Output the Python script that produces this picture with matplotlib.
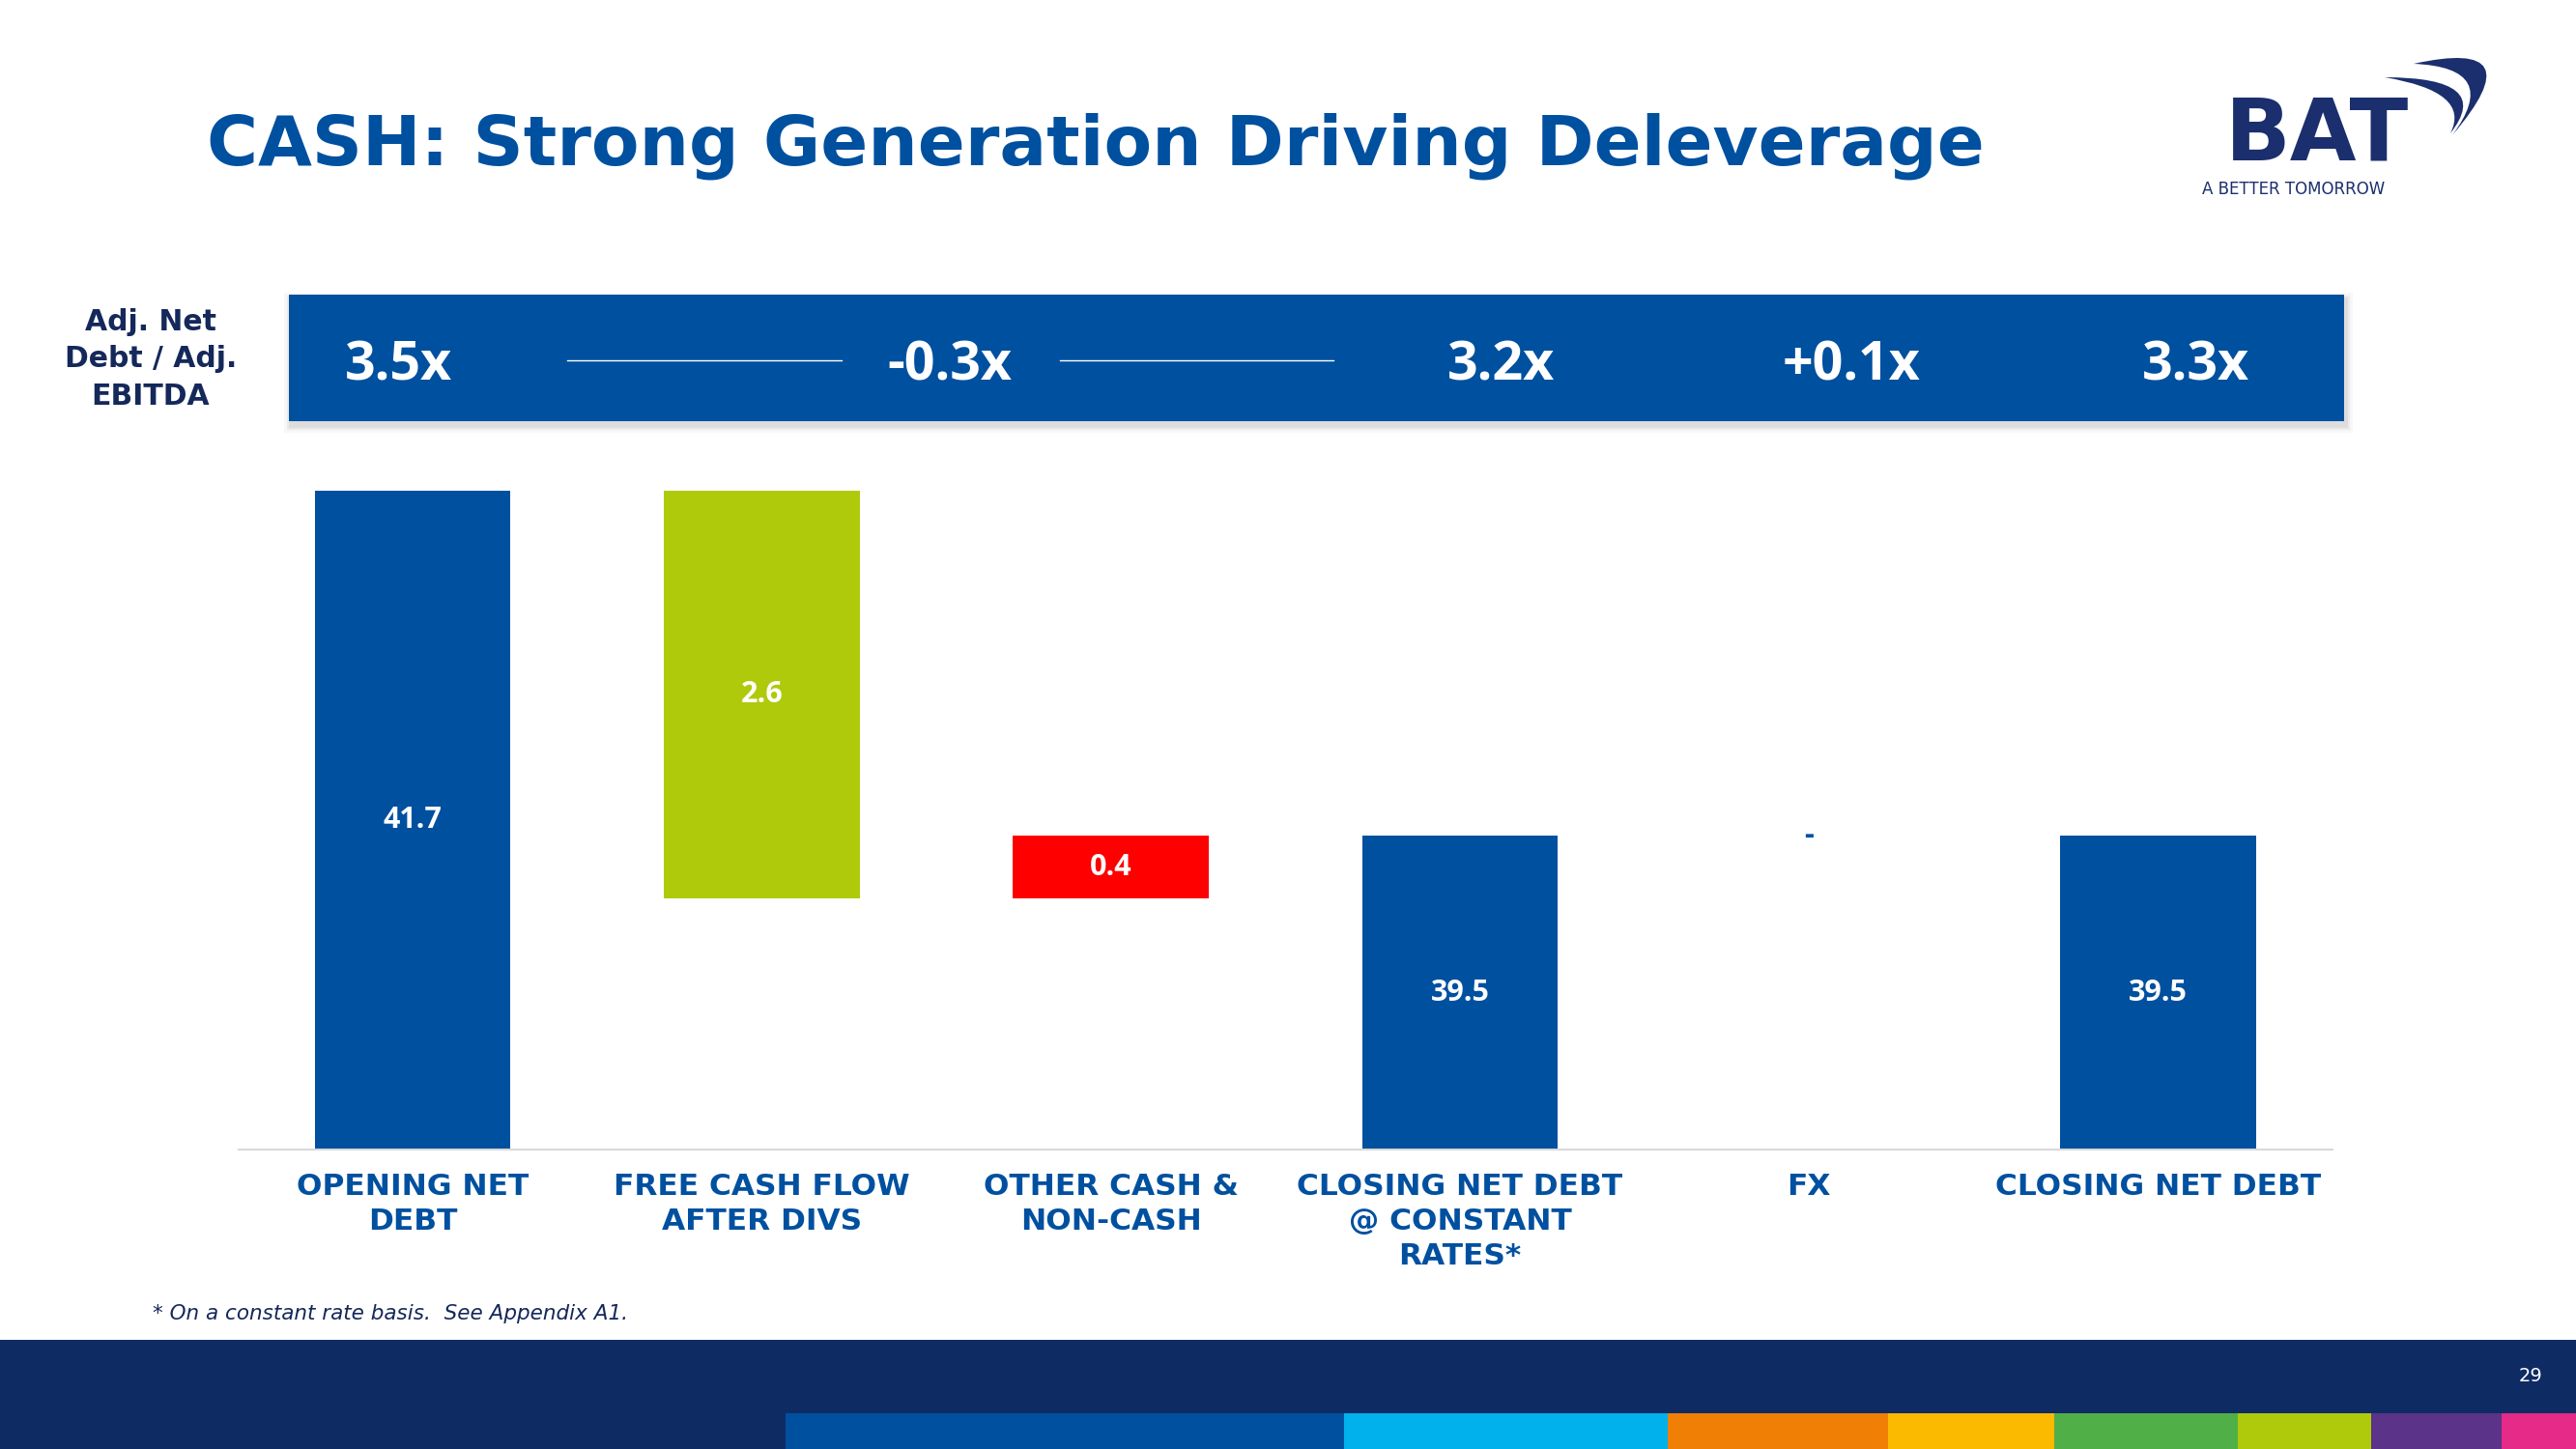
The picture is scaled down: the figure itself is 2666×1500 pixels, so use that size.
import matplotlib
matplotlib.use("Agg")
import matplotlib.pyplot as plt
from matplotlib.patches import Rectangle, PathPatch
from matplotlib.path import Path

# data
categories = ["OPENING NET\nDEBT", "FREE CASH FLOW\nAFTER DIVS", "OTHER CASH &\nNON-CASH",
              "CLOSING NET DEBT\n@ CONSTANT\nRATES*", "FX", "CLOSING NET DEBT"]
values = [41.7, -2.6, 0.4, 39.5, 0.0, 39.5]
kinds = ["total", "delta", "delta", "total", "delta", "total"]
value_labels = ["41.7", "2.6", "0.4", "39.5", "-", "39.5"]
ratio_labels = ["3.5x", "-0.3x", "3.2x", "+0.1x", "3.3x"]
strip_colors = ["#0050A0", "#00B1EB", "#F07F05", "#FBBA00", "#50AF47", "#AFCA0B", "#5B3388", "#E52A87"]

BLUE = "#0050A0"
LIME = "#AFCA0B"
RED = "#FF0000"
NAVY = "#0F2B63"
DARK = "#14285A"
LOGO = "#1B2F6E"
bar_colors = [BLUE, LIME, RED, BLUE, BLUE, BLUE]
ymin, ymax = 37.5, 42.0

W, H = 2666, 1500
fig = plt.figure(figsize=(W / 100, H / 100), dpi=100)

# background layer in pixel coords
bg = fig.add_axes([0, 0, 1, 1], zorder=0)
bg.set_xlim(0, W)
bg.set_ylim(H, 0)
bg.axis("off")

bg.text(214, 170, "CASH: Strong Generation Driving Deleverage", fontsize=52,
        fontweight="bold", color=BLUE, family="DejaVu Sans", va="baseline", ha="left")

# logo
bg.text(2398, 165, "BAT", fontsize=64, fontweight="bold", color=LOGO,
        family="DejaVu Sans", ha="center", va="baseline")
bg.text(2279, 196, "A BETTER TOMORROW", fontsize=12, color=LOGO,
        family="DejaVu Sans", ha="left", va="center")
sw1 = Path([(2498, 66), (2625, 38), (2538, 140), (2590, 70), (2498, 66)],
           [Path.MOVETO, Path.CURVE3, Path.CURVE3, Path.CURVE3, Path.CURVE3])
sw2 = Path([(2468, 80), (2582, 80), (2536, 138), (2558, 95), (2468, 80)],
           [Path.MOVETO, Path.CURVE3, Path.CURVE3, Path.CURVE3, Path.CURVE3])
bg.add_patch(PathPatch(sw1, color=LOGO, lw=0))
bg.add_patch(PathPatch(sw2, color=LOGO, lw=0))

# ratio banner
for k, a in [(7, 0.08), (4, 0.12), (2, 0.16)]:
    bg.add_patch(Rectangle((299 - k + 2, 305 - k + 5), 2127 + 2 * k, 131 + 2 * k,
                           color="#9A9A9A", alpha=a, lw=0))
bg.add_patch(Rectangle((299, 305), 2127, 131, color=BLUE, lw=0))
banner_x = [412, 983, 1553, 1916, 2272]
for x, t in zip(banner_x, ratio_labels):
    bg.text(x, 372, t, fontsize=40, fontweight="bold", color="white",
            family="Open Sans", ha="center", va="center_baseline")
bg.plot([587, 871], [373, 373], color="white", lw=1)
bg.plot([1097, 1380], [373, 373], color="white", lw=1)
bg.text(156, 372, "Adj. Net\nDebt / Adj.\nEBITDA", fontsize=21.5, fontweight="bold",
        color=DARK, family="DejaVu Sans", ha="center", va="center", linespacing=1.4)

# footnote and footer
bg.text(158, 1360, "* On a constant rate basis.  See Appendix A1.", fontsize=15.5,
        style="italic", color=DARK, family="DejaVu Sans", ha="left", va="center")
bg.add_patch(Rectangle((0, 1387), W, H - 1387, color=NAVY, lw=0))
edges = [813, 1391, 1726, 1954, 2126, 2316, 2454, 2589, W]
for i, c in enumerate(strip_colors):
    bg.add_patch(Rectangle((edges[i], 1463), edges[i + 1] - edges[i], H - 1463, color=c, lw=0))
bg.text(2619, 1425, "29", fontsize=14, color="white", family="DejaVu Sans",
        ha="center", va="center")

# waterfall chart
ax = fig.add_axes([246.5 / W, 1 - 1190 / H, (2414 - 246.5) / W, (1190 - 459) / H], zorder=1)
ax.set_facecolor("none")
running = 0
for i, (v, k) in enumerate(zip(values, kinds)):
    if k == "total":
        bottom = 0
        running = v
    else:
        bottom = running
        running += v
    ax.bar(i, v, bottom=bottom, width=0.56, color=bar_colors[i], lw=0)
    lo, hi = sorted([bottom, bottom + v])
    if v == 0:
        ax.text(i, hi, value_labels[i], color=BLUE, fontsize=22, fontweight="bold",
                family="Open Sans", ha="center", va="center")
    else:
        ax.text(i, (max(lo, ymin) + hi) / 2, value_labels[i], color="white", fontsize=22,
                fontweight="bold", family="Open Sans", ha="center", va="center")

ax.set_xlim(-0.5, 5.5)
ax.set_ylim(ymin, ymax)
ax.set_yticks([])
ax.set_xticks(range(len(categories)))
ax.set_xticklabels(categories, fontsize=22.5, fontweight="bold", color=BLUE,
                   family="DejaVu Sans", linespacing=1.32)
ax.tick_params(axis="x", length=0, pad=17)
for s in ["top", "left", "right"]:
    ax.spines[s].set_visible(False)
ax.spines["bottom"].set_color("#D9D9D9")
ax.spines["bottom"].set_linewidth(1.5)

fig.savefig("out.png", dpi=100, facecolor="white")
